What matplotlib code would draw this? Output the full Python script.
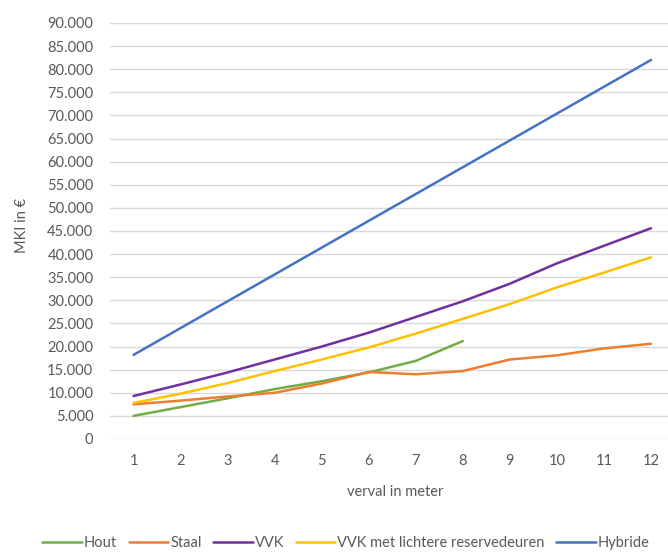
import matplotlib
matplotlib.use("Agg")
import matplotlib.pyplot as plt
from matplotlib.ticker import FuncFormatter

plt.rcParams['font.family'] = ['Lato', 'DejaVu Sans']

# MKI per verval (meter), in euro
verval = [1, 2, 3, 4, 5, 6, 7, 8, 9, 10, 11, 12]
hout = [5000, 6900, 8800, 10800, 12500, 14400, 16900, 21200]
staal = [7500, 8300, 9200, 10000, 12000, 14500, 14000, 14700, 17200, 18100, 19600, 20600]
vvk = [9300, 11800, 14400, 17200, 20000, 23000, 26400, 29800, 33600, 38000, 41800, 45600]
vvk_licht = [7800, 9800, 12100, 14700, 17200, 19800, 22800, 26000, 29200, 32800, 36000, 39300]
hybride = [18200, 24000, 29800, 35600, 41400, 47200, 53000, 58800, 64600, 70400, 76200, 82000]

series = [
    ("Hout", verval[:len(hout)], hout, "#70AD47"),
    ("Staal", verval, staal, "#ED7D31"),
    ("VVK", verval, vvk, "#7030A0"),
    ("VVK met lichtere reservedeuren", verval, vvk_licht, "#FFC000"),
    ("Hybride", verval, hybride, "#4472C4"),
]

fig = plt.figure(figsize=(6.68, 5.53), dpi=100)
ax = fig.add_axes([110 / 668, 1 - 439 / 553, 564.5 / 668, 416 / 553])

for name, xs, ys, col in series:
    ax.plot(xs, ys, color=col, lw=1.8, label=name, solid_capstyle='round')

ax.set_xlim(0.5, 12.5)
ax.set_ylim(0, 90000)
ax.set_yticks(range(0, 90001, 5000))
ax.set_xticks(verval)
ax.yaxis.set_major_formatter(FuncFormatter(lambda v, p: f"{int(v):,}".replace(",", ".")))
ax.grid(axis='y', color='#D9D9D9', lw=1)
ax.set_axisbelow(True)
for s in ax.spines.values():
    s.set_visible(False)
ax.tick_params(length=0, labelsize=10.5, colors='#595959')
ax.tick_params(axis='y', pad=12)
ax.tick_params(axis='x', pad=11)

fig.text(22 / 668, 1 - 225 / 553, "MKI in €", rotation=90, ha='center', va='center',
         fontsize=10.5, color='#595959')
fig.text(395 / 668, 1 - 492 / 553, "verval in meter", ha='center', va='center',
         fontsize=10.5, color='#595959')

fig.legend(loc='center', bbox_to_anchor=(346 / 668, 1 - 543 / 553), ncol=5, frameon=False,
           fontsize=10.5, labelcolor='#595959', handlelength=2.7, handletextpad=0.15,
           columnspacing=0.8)

fig.savefig("out.png", dpi=100, facecolor='white')
